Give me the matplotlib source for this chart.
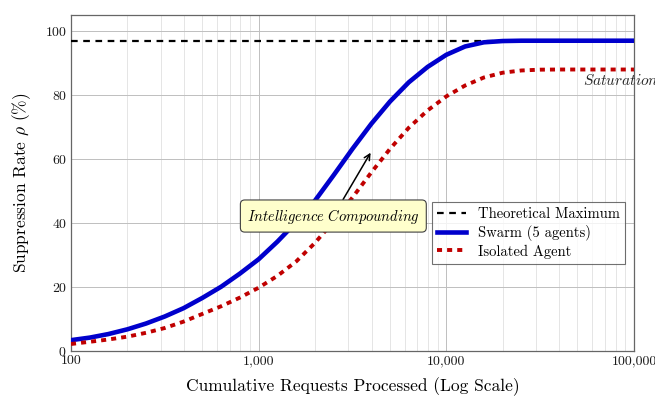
import numpy as np
import matplotlib
matplotlib.use('Agg')
import matplotlib.pyplot as plt

plt.rcParams['font.family'] = 'serif'
plt.rcParams['font.serif'] = ['cmr10', 'DejaVu Serif']
plt.rcParams['mathtext.fontset'] = 'cm'
plt.rcParams['axes.formatter.use_mathtext'] = True

# values (one point per tenth of a decade)
requests = [100, 126, 158, 200, 251, 316, 398, 501, 631, 794,
            1000, 1259, 1585, 1995, 2512, 3162, 3981, 5012, 6310, 7943,
            10000, 12589, 15849, 19953, 25119, 31623, 39811, 50119, 63096,
            79433, 100000]
swarm = [3.4, 4.2, 5.3, 6.8, 8.6, 10.8, 13.4, 16.6, 20.1, 24.2,
         28.7, 34.2, 40.3, 47.0, 55.0, 63.2, 71.0, 78.0, 84.0, 88.8,
         92.6, 95.2, 96.5, 96.9, 97.0, 97.0, 97.0, 97.0, 97.0,
         97.0, 97.0]
isolated = [2.2, 2.9, 3.6, 4.5, 5.7, 7.2, 9.2, 11.6, 14.0, 16.7,
            19.8, 23.5, 28.0, 33.8, 40.6, 48.0, 55.8, 63.2, 69.8, 75.2,
            79.6, 83.0, 85.5, 87.0, 87.7, 87.95, 88.0, 88.0, 88.0,
            88.0, 88.0]
theoretical_max = 97
xticks = [100, 1000, 10000, 100000]
xtick_labels = ['100', '1,000', '10,000', '100,000']
yticks = [0, 20, 40, 60, 80, 100]

fig = plt.figure(figsize=(6.55, 3.98), dpi=100)
ax = fig.add_axes([0.1084, 0.118, 0.8595, 0.844])

ax.plot(requests, [theoretical_max]*len(requests), color='black',
        linestyle=(0, (3, 2.5)), linewidth=1.6, label='Theoretical Maximum', zorder=3)
ax.plot(requests, swarm, color='#0000cc', linewidth=3.3,
        label='Swarm (5 agents)', zorder=4, solid_joinstyle='round')
ax.plot(requests, isolated, color='#c00000', linewidth=2.8,
        linestyle=(0, (1.3, 1.3)), label='Isolated Agent', zorder=4)

ax.set_xscale('log')
ax.set_xlim(100, 100000)
ax.set_ylim(0, 105)
ax.set_xticks(xticks)
ax.set_xticklabels(xtick_labels)
ax.set_yticks(yticks)
ax.xaxis.set_minor_formatter(matplotlib.ticker.NullFormatter())
ax.tick_params(which='both', direction='in', length=0, labelsize=10, pad=3,
               colors='0.1')
ax.grid(which='major', color='0.75', linewidth=0.7)
ax.grid(which='minor', axis='x', color='0.88', linewidth=0.6)
ax.set_axisbelow(True)
for s in ax.spines.values():
    s.set_color('0.4')
    s.set_linewidth(0.9)

ax.set_xlabel('Cumulative Requests Processed (Log Scale)', fontsize=12.5,
              labelpad=7)
ax.set_ylabel(r'Suppression Rate $\rho$ (%)', fontsize=12.5, labelpad=8)

ax.annotate(r'$\mathit{Intelligence\ Compounding}$', xy=(3950, 62),
            xytext=(2500, 42.2), ha='center', va='center', fontsize=10.5,
            bbox=dict(boxstyle='round,pad=0.45,rounding_size=0.3',
                      facecolor='#ffffcc', edgecolor='0.25', linewidth=0.8),
            arrowprops=dict(arrowstyle='->', color='black', lw=1.1,
                            shrinkA=0, shrinkB=0), zorder=6)
ax.text(53500, 84.7, r'$\mathit{Saturation}$', fontsize=11, va='center',
        ha='left', color='0.15', clip_on=False)

leg = ax.legend(loc='upper left', bbox_to_anchor=(0.641, 0.443), fontsize=10.5,
                frameon=True, fancybox=False, edgecolor='0.3',
                handlelength=2.0, borderpad=0.35, labelspacing=0.25,
                handletextpad=0.8, borderaxespad=0)
leg.get_frame().set_linewidth(0.8)

fig.savefig('out.png', dpi=100)
